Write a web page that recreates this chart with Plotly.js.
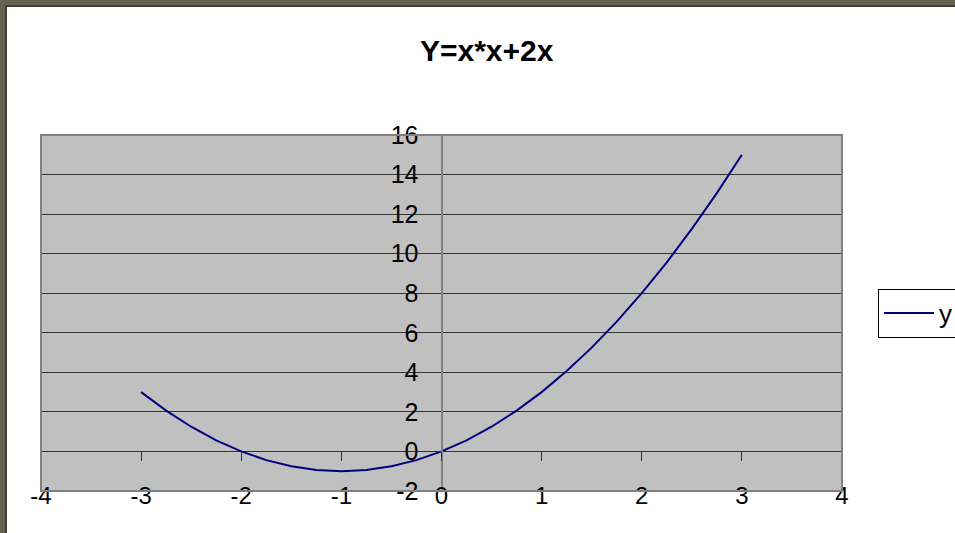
<!DOCTYPE html>
<html>
<head>
<meta charset="utf-8">
<script src="https://cdn.plot.ly/plotly-3.0.1.min.js"></script>
<style>
  html, body { margin: 0; padding: 0; width: 955px; height: 533px; overflow: hidden; background: #63634f; }
  #frame { position: absolute; left: 5px; top: 5px; width: 950px; height: 528px; background: #3e3e34; }
  #chart { position: absolute; left: 7px; top: 7px; width: 948px; height: 526px; }
</style>
</head>
<body>
<div id="frame"></div>
<div id="chart"></div>
<script>
// Data
const xValues = [-3, -2.75, -2.5, -2.25, -2, -1.75, -1.5, -1.25, -1, -0.75, -0.5, -0.25,
                 0, 0.25, 0.5, 0.75, 1, 1.25, 1.5, 1.75, 2, 2.25, 2.5, 2.75, 3];
const yValues = [3, 2.0625, 1.25, 0.5625, 0, -0.4375, -0.75, -0.9375, -1, -0.9375, -0.75, -0.4375,
                 0, 0.5625, 1.25, 2.0625, 3, 4.0625, 5.25, 6.5625, 8, 9.5625, 11.25, 13.0625, 15];
const seriesName = 'y';
const chartTitle = 'Y=x*x+2x';
const xRange = [-4, 4];
const yRange = [-2, 16];
const xTickVals = [-4, -3, -2, -1, 0, 1, 2, 3, 4];
const xTickText = ['-4', '-3', '-2', '-1', '0', '1', '2', '3', '4'];
const yTickVals = [-2, 0, 2, 4, 6, 8, 10, 12, 14, 16];
const yTickText = ['-2', '0', '2', '4', '6', '8', '10', '12', '14', '16'];

const font = 'Liberation Sans, Arial, sans-serif';

const traces = [
  {
    x: xValues, y: yValues, name: seriesName, type: 'scatter', mode: 'lines',
    line: { color: '#000080', width: 2 }
  },
  {
    x: [], y: [], xaxis: 'x2', yaxis: 'y', type: 'scatter', mode: 'lines',
    showlegend: false, hoverinfo: 'skip'
  }
];

const yZeroFrac = (0 - yRange[0]) / (yRange[1] - yRange[0]);
const xZeroFrac = (0 - xRange[0]) / (xRange[1] - xRange[0]);

const layout = {
  width: 948, height: 526,
  margin: { l: 34, r: 113, t: 128, b: 42, autoexpand: false },
  paper_bgcolor: '#ffffff',
  plot_bgcolor: '#c0c0c0',
  font: { family: font, color: '#000000', size: 24 },
  title: {
    text: '<b>' + chartTitle + '</b>',
    font: { family: font, size: 30, color: '#000000' },
    x: 0.506, xref: 'container', xanchor: 'center',
    y: 0.918, yref: 'container', yanchor: 'middle'
  },
  showlegend: true,
  legend: {
    x: 1.045, xanchor: 'left', y: 0.5, yanchor: 'middle',
    bgcolor: '#ffffff', bordercolor: '#000000', borderwidth: 1,
    itemwidth: 50,
    font: { family: font, size: 26, color: '#000000' }
  },
  xaxis: {
    range: xRange, tickmode: 'array', tickvals: xTickVals, ticktext: xTickText,
    anchor: 'free', position: 0.034,
    showgrid: false, zeroline: false, showline: false,
    ticks: '', showticklabels: true,
    tickfont: { family: font, size: 24, color: '#000000' }
  },
  xaxis2: {
    range: xRange, tickmode: 'array', tickvals: xTickVals, matches: 'x', overlaying: 'x',
    anchor: 'free', position: yZeroFrac, side: 'bottom',
    showgrid: false, zeroline: false, showline: false,
    ticks: 'outside', ticklen: 9, tickwidth: 1, tickcolor: '#333333',
    showticklabels: false
  },
  yaxis: {
    range: yRange, tickmode: 'array', tickvals: yTickVals, ticktext: yTickText,
    anchor: 'free', position: xZeroFrac, side: 'left',
    showgrid: true, gridcolor: '#333333', gridwidth: 1,
    zeroline: true, zerolinecolor: '#333333', zerolinewidth: 1,
    showline: true, linecolor: '#808080', linewidth: 2,
    ticks: 'outside', ticklen: 9, tickwidth: 1, tickcolor: '#333333',
    ticklabelstandoff: 8,
    tickfont: { family: font, size: 25, color: '#000000' }
  },
  shapes: [
    { type: 'rect', xref: 'paper', yref: 'paper', x0: 0, x1: 1, y0: 0, y1: 1,
      line: { color: '#808080', width: 2 }, fillcolor: 'rgba(0,0,0,0)', layer: 'above' }
  ]
};

Plotly.newPlot('chart', traces, layout, { staticPlot: true, displayModeBar: false });
</script>
</body>
</html>
